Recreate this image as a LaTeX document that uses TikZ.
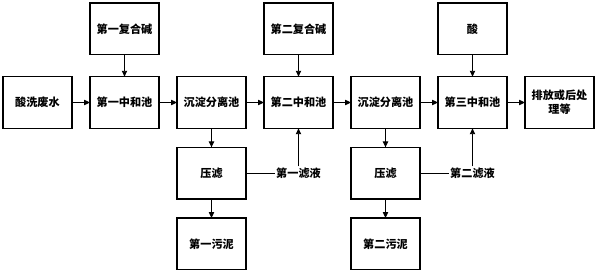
\documentclass[tikz,border=0pt]{standalone}
\usepackage{fontspec}
\newfontfamily\cjk{Noto Sans CJK SC}
\usepackage{tikz}
\usetikzlibrary{arrows.meta,positioning}
\definecolor{ink}{HTML}{000000}
\tikzset{
  procbox/.style={
    rectangle, draw=#1, fill=white, line width=0.9pt,
    minimum width=2.07cm, minimum height=1.55cm,
    font=\cjk\bfseries\fontsize{9.5}{12}\selectfont, align=center,
    inner sep=2pt, outer sep=0pt
  },
  procbox/.default=ink,
  flowarrow/.style={
    -{Triangle[length=5pt,width=4.5pt]}, line width=0.8pt, color=#1
  },
  flowarrow/.default=ink,
  labelnode/.style={
    font=\cjk\bfseries\fontsize{9.5}{12}\selectfont, inner sep=1pt
  },
}
\begin{document}
\begin{tikzpicture}[node distance=0.54cm]
  \useasboundingbox (0,0) rectangle (18,-8.28);
  % main line
  \node[procbox] (waste) at (1.125,-3.075) {酸洗废水};
  \node[procbox, right=of waste] (neu1) {第一中和池};
  \node[procbox, right=of neu1] (sep1) {沉淀分离池};
  \node[procbox, right=of sep1] (neu2) {第二中和池};
  \node[procbox, right=of neu2] (sep2) {沉淀分离池};
  \node[procbox, right=of sep2] (neu3) {第三中和池};
  \node[procbox, right=of neu3] (out) {排放或后处\\理等};
  % dosing
  \node[procbox, above=0.66cm of neu1] (base1) {第一复合碱};
  \node[procbox, above=0.66cm of neu2] (base2) {第二复合碱};
  \node[procbox, above=0.66cm of neu3] (acid) {酸};
  % filtering
  \node[procbox, below=0.57cm of sep1] (press1) {压滤};
  \node[procbox, below=0.57cm of press1] (mud1) {第一污泥};
  \node[procbox, below=0.57cm of sep2] (press2) {压滤};
  \node[procbox, below=0.57cm of press2] (mud2) {第二污泥};
  \node[labelnode] (filt1) at (press1 -| neu2) {第一滤液};
  \node[labelnode] (filt2) at (press2 -| neu3) {第二滤液};
  \draw[flowarrow] (waste) -- (neu1);
  \draw[flowarrow] (neu1) -- (sep1);
  \draw[flowarrow] (sep1) -- (neu2);
  \draw[flowarrow] (neu2) -- (sep2);
  \draw[flowarrow] (sep2) -- (neu3);
  \draw[flowarrow] (neu3) -- (out);
  \draw[flowarrow] (base1) -- (neu1);
  \draw[flowarrow] (base2) -- (neu2);
  \draw[flowarrow] (acid) -- (neu3);
  \draw[flowarrow] (sep1) -- (press1);
  \draw[flowarrow] (press1) -- (mud1);
  \draw[flowarrow] (sep2) -- (press2);
  \draw[flowarrow] (press2) -- (mud2);
  \draw[line width=0.8pt] (press1) -- (filt1);
  \draw[flowarrow] (filt1) -- (neu2);
  \draw[line width=0.8pt] (press2) -- (filt2);
  \draw[flowarrow] (filt2) -- (neu3);
\end{tikzpicture}
\end{document}
